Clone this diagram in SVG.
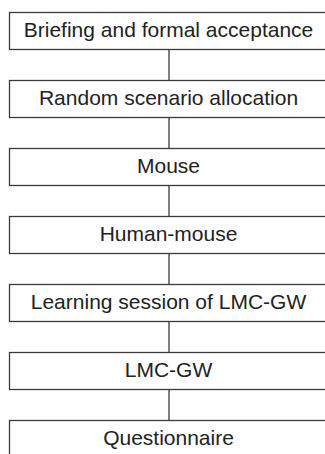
<svg xmlns="http://www.w3.org/2000/svg" width="325" height="454" viewBox="0 0 325 454">
<style>
.box{fill:#fff;stroke:#3a3a3a;stroke-width:1.3}
.lbl{font-family:"Liberation Sans",Arial,sans-serif;font-size:21px;fill:#222;text-anchor:middle}
.con{stroke:#3a3a3a;stroke-width:1.3;fill:none}
</style>
<rect width="325" height="454" fill="#fff"/>
<g id="connectors">
<line class="con" x1="169" y1="49" x2="169" y2="80"/>
<line class="con" x1="169" y1="117" x2="169" y2="148"/>
<line class="con" x1="169" y1="185" x2="169" y2="216"/>
<line class="con" x1="169" y1="253" x2="169" y2="284"/>
<line class="con" x1="169" y1="321" x2="169" y2="352"/>
<line class="con" x1="169" y1="389" x2="169" y2="420"/>
</g>
<g id="n1"><rect class="box" x="9.5" y="12.5" width="320" height="37"/><text class="lbl" x="168.5" y="36.5">Briefing and formal acceptance</text></g>
<g id="n2"><rect class="box" x="9.5" y="80.5" width="320" height="37"/><text class="lbl" x="168.5" y="104.5">Random scenario allocation</text></g>
<g id="n3"><rect class="box" x="9.5" y="148.5" width="320" height="37"/><text class="lbl" x="168.5" y="172.5">Mouse</text></g>
<g id="n4"><rect class="box" x="9.5" y="216.5" width="320" height="37"/><text class="lbl" x="168.5" y="240.5">Human-mouse</text></g>
<g id="n5"><rect class="box" x="9.5" y="284.5" width="320" height="37"/><text class="lbl" x="168.5" y="308.5">Learning session of LMC-GW</text></g>
<g id="n6"><rect class="box" x="9.5" y="352.5" width="320" height="37"/><text class="lbl" x="168.5" y="376.5">LMC-GW</text></g>
<g id="n7"><rect class="box" x="9.5" y="420.5" width="320" height="37"/><text class="lbl" x="168.5" y="444.5">Questionnaire</text></g>
</svg>
